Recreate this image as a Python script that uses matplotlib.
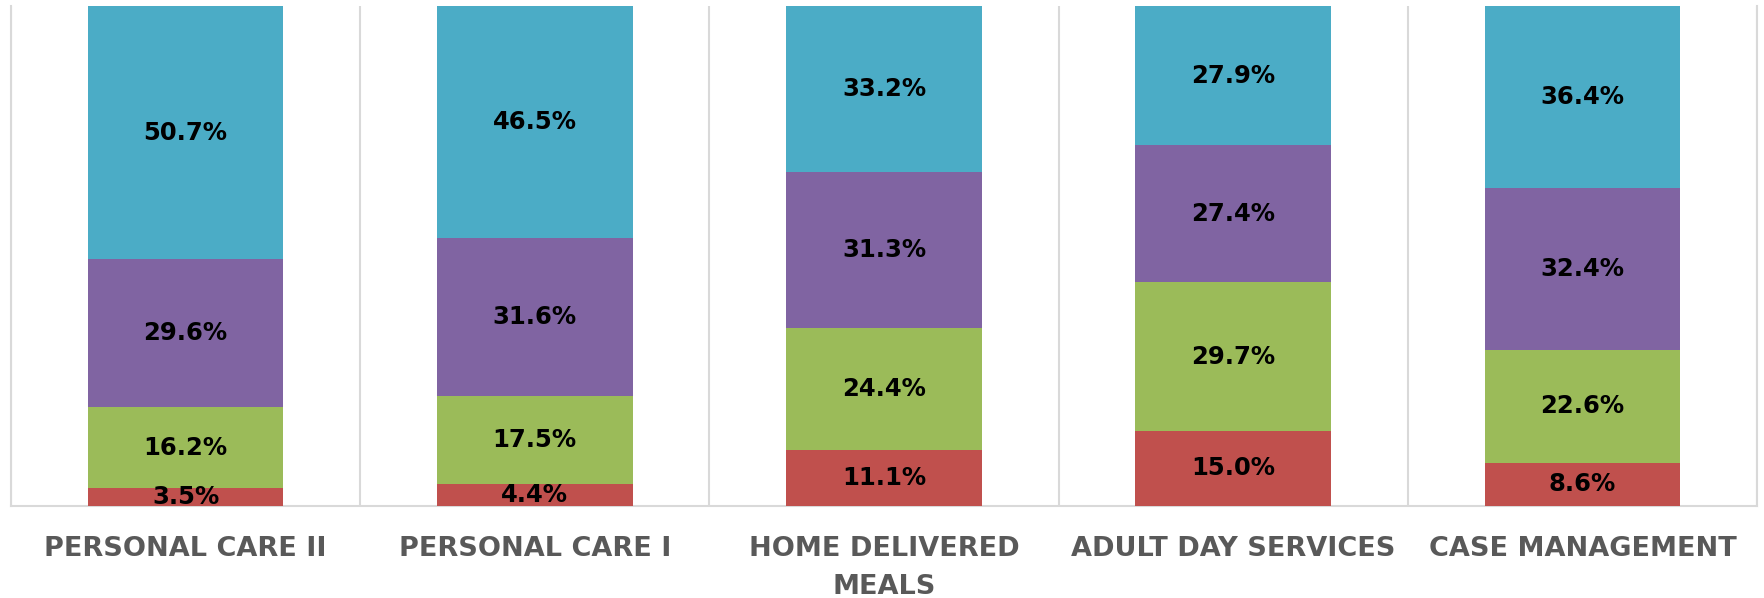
import matplotlib.pyplot as plt
import numpy as np

categories = ["PERSONAL CARE II", "PERSONAL CARE I", "HOME DELIVERED\nMEALS",
              "ADULT DAY SERVICES", "CASE MANAGEMENT"]
seg_red = [3.5, 4.4, 11.1, 15.0, 8.6]
seg_green = [16.2, 17.5, 24.4, 29.7, 22.6]
seg_purple = [29.6, 31.6, 31.3, 27.4, 32.4]
seg_blue = [50.7, 46.5, 33.2, 27.9, 36.4]

series = [seg_red, seg_green, seg_purple, seg_blue]
colors = ["#C0504D", "#9BBB59", "#8064A2", "#4BACC6"]


def main():
    fig = plt.figure(figsize=(17.64, 5.98), dpi=100)
    ax = fig.add_axes([0.0062, 0.154, 0.9899, 0.836])

    x = np.arange(len(categories))
    bottom = np.zeros(len(categories))
    for vals, col in zip(series, colors):
        vals = np.array(vals)
        ax.bar(x, vals, width=0.56, bottom=bottom, color=col, edgecolor="none", zorder=3)
        for xi, b, v in zip(x, bottom, vals):
            ax.text(xi, b + v / 2, f"{v:.1f}%", ha="center", va="center",
                    fontsize=17.5, fontweight="bold", color="black", zorder=4)
        bottom += vals

    ax.set_xlim(-0.5, len(categories) - 0.5)
    ax.set_ylim(0, 100)
    ax.set_yticks([])
    ax.set_xticks(x)
    ax.set_xticklabels(categories, fontsize=19.5, fontweight="bold", color="#595959",
                       linespacing=1.6)
    ax.tick_params(axis="x", length=0, pad=22)
    ax.set_xticks(np.arange(-0.5, len(categories)), minor=True)
    ax.tick_params(axis="x", which="minor", length=0)
    ax.grid(True, axis="x", which="minor", color="#D9D9D9", linewidth=1.5, zorder=0)

    for s in ["left", "right", "bottom"]:
        ax.spines[s].set_color("#D9D9D9")
        ax.spines[s].set_linewidth(1.5)
    ax.spines["top"].set_visible(False)

    fig.savefig("out.png", dpi=100)


if __name__ == "__main__":
    main()
